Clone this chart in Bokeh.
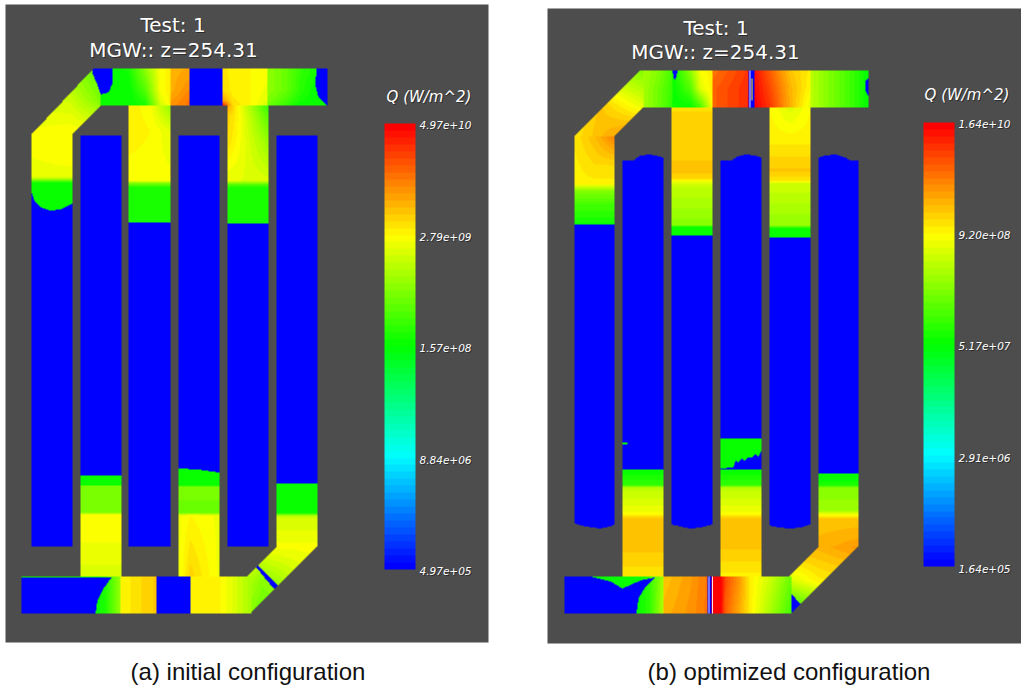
import numpy as np
from bokeh.plotting import figure
from bokeh.models import LinearColorMapper
from bokeh.core.properties import value
from bokeh.embed import file_html
from bokeh.resources import INLINE

W, H = 1021, 692
BG = "#4d4d4d"
E = 0.01

# ---- tick labels / texts
A_TICKS = ["4.97e+10", "2.79e+09", "1.57e+08", "8.84e+06", "4.97e+05"]
B_TICKS = ["1.64e+10", "9.20e+08", "5.17e+07", "2.91e+06", "1.64e+05"]
TITLE_1 = "Test: 1"
TITLE_2 = "MGW:: z=254.31"
CB_TITLE = "Q (W/m^2)"
CAP_A = "(a) initial configuration"
CAP_B = "(b) optimized configuration"

# ---- scalar fields (normalised log Q, 0 blue, .25 cyan, .5 green, .75 yellow, 1 red)
# each block: xs, ys, rows of values, optional outline
A_DIAG = ([31, 70, 100], [68, 100, 134],
          [[.64, .64, .58], [.71, .70, .62], [.74, .75, .75]],
          [(31, 134), (93, 68), (100, 68), (100, 105), (72, 134)])
A_LEFT = ([31, 72], [134, 175, 178, 181, 183, 218, 218 + E, 546],
          [[.74, .75], [.73, .73], [.68, .68], [.56, .56], [.5, .5], [.5, .5], [0, 0], [0, 0]], None)
A_TOP = ([100, 128, 145, 160, 169.9, 170, 189, 189 + E, 222, 222 + E, 232, 250, 267, 267 + E, 285, 300, 316, 327],
         [68, 90, 100, 105],
         [[.5, .52, .64, .74, .76, .82, .83, 0, 0, .77, .76, .75, .74, .64, .60, .55, .52, .5],
          [.5, .5, .58, .74, .76, .82, .86, 0, 0, .78, .76, .75, .73, .64, .60, .54, .5, .5],
          [.5, .5, .54, .72, .76, .84, .88, 0, 0, .84, .77, .75, .72, .62, .57, .52, .5, .5],
          [.5, .5, .52, .70, .75, .85, .88, 0, 0, .97, .78, .75, .70, .60, .55, .5, .5, .5]], None)
A_BAR2 = ([80, 121], [135, 475, 475 + E, 485, 485 + E, 512, 514, 520, 576],
          [[0, 0], [0, 0], [.5, .5], [.5, .5], [.61, .61], [.61, .61], [.74, .74], [.75, .75], [.71, .71]], None)
A_BAR3 = ([128.5, 150, 170], [105, 130, 180, 183, 187, 222, 222 + E, 546],
          [[.76, .74, .64], [.76, .75, .72], [.74, .74, .74], [.62, .62, .62], [.52, .52, .52],
           [.52, .52, .52], [0, 0, 0], [0, 0, 0]], None)
A_BAR4 = ([178, 190, 219], [135, 468, 468 + E, 485, 486, 512, 515, 576],
          [[0, 0, 0], [0, 0, 0], [.5, .5, .5], [.5, .5, .5], [.62, .62, .62], [.6, .6, .6],
           [.73, .75, .73], [.73, .79, .73]],
          [(178, 135), (219, 135), (219, 577), (178, 577)])
A_BAR5 = ([227, 236, 268], [105, 115, 140, 180, 185, 188, 223, 223 + E, 546],
          [[.84, .76, .54], [.79, .76, .58], [.78, .75, .64], [.72, .72, .71], [.56, .56, .56], [.52, .52, .52],
           [.52, .52, .52], [0, 0, 0], [0, 0, 0]], None)
A_BAR6 = ([276, 317], [135, 483, 483 + E, 512, 516, 546],
          [[0, 0], [0, 0], [.5, .5], [.5, .5], [.70, .70], [.74, .74]], None)
A_BOT = ([21, 95, 105, 120, 120 + E, 140, 156, 156 + E, 190, 190 + E, 220, 235, 251],
         [576, 613],
         [[.5, .5, .53, .65, .75, .78, .80, 0, 0, .75, .75, .71, .66],
          [.5, .5, .53, .65, .75, .78, .80, 0, 0, .75, .75, .71, .66]], None)
A_DIAG2 = ([245, 262, 317], [546, 580, 613],
           [[.74, .74, .74], [.68, .63, .73], [.64, .6, .6]],
           [(276, 546), (317, 546), (250, 613), (245, 613), (247, 576)])
# blue overlays
A_BLUE = [[(92, 68), (92, 73), (97, 84), (100, 94), (108, 92), (112, 83), (112, 68)],
          [(316, 68), (315, 85), (318, 97), (327, 105), (327, 68)],
          [(31, 192), (34, 200), (40, 207), (50, 210), (60, 209), (68, 205), (72, 203), (72, 219), (31, 219)],
          [(21, 577), (53, 577), (111, 577), (103, 588), (97, 600), (95, 613), (21, 613)],
          [(255, 566), (258, 565), (278, 585), (274, 589)],
          [(178, 468), (198, 469), (219, 472), (219, 460), (178, 460)]]

B_DIAG = ([574, 600, 643], [70, 105, 136],
          [[.68, .68, .62], [.76, .80, .72], [.77, .81, .87]],
          [(574, 136), (639, 70), (643, 70), (643, 107), (614, 136)])
B_LEFT = ([574, 594, 614], [136, 165, 183, 185, 190, 205, 222, 224, 224 + E, 530],
          [[.77, .81, .87], [.76, .78, .78], [.76, .76, .76], [.72, .72, .72], [.63, .63, .63],
           [.56, .56, .56], [.52, .52, .52], [.5, .5, .5], [0, 0, 0], [0, 0, 0]],
          [(574, 136), (614, 136), (614, 524), (610, 526), (600, 528), (585, 526), (574, 523)])
B_TOP = ([643, 660, 672, 672 + E, 690, 700, 712, 712 + E, 747, 754, 770, 790, 810, 810 + E, 830, 850, 868],
         [70, 88, 107],
         [[.66, .62, .56, .5, .64, .74, .76, .88, .94, .98, .90, .80, .76, .68, .62, .56, .5],
          [.66, .60, .55, .5, .58, .72, .76, .90, .95, .99, .92, .82, .75, .68, .62, .56, .5],
          [.66, .60, .54, .5, .5, .56, .75, .90, .95, 1.0, .94, .82, .72, .68, .62, .56, .5]], None)
B_BAR2 = ([622.5, 663], [150, 469, 469 + E, 485, 487, 510, 514, 518, 540, 576],
          [[0, 0], [0, 0], [.5, .5], [.55, .55], [.68, .68], [.73, .73], [.75, .75], [.80, .80], [.81, .81], [.77, .77]],
          [(622.5, 160), (633, 160), (640, 155), (650, 154), (660, 156), (663, 157), (663, 577), (622.5, 577)])
B_BAR3 = ([671, 712], [107, 170, 178, 180, 185, 225, 226, 235, 235 + E, 530],
          [[.78, .78], [.80, .80], [.79, .79], [.74, .74], [.69, .69], [.63, .63], [.5, .5], [.5, .5], [0, 0], [0, 0]],
          [(671, 107), (712, 107), (712, 524), (700, 527), (690, 528), (680, 526), (671, 524)])
B_BAR4 = ([720, 761], [150, 438, 438 + E, 468, 468 + E, 469, 469 + E, 485, 487, 510, 514, 518, 540, 576],
          [[0, 0], [0, 0], [.5, .5], [.5, .5], [.5, .5], [.5, .5], [.5, .5], [.55, .55], [.68, .68], [.73, .73],
           [.75, .75], [.80, .80], [.81, .81], [.76, .76]],
          [(720, 160), (731, 160), (737, 156), (745, 154), (755, 155), (761, 157), (761, 577), (720, 577)])
B_BAR5 = ([769, 790, 810], [107, 140, 170, 180, 183, 225, 228, 237, 237 + E, 530],
          [[.75, .71, .75], [.76, .76, .76], [.80, .80, .80], [.77, .77, .77], [.70, .70, .70], [.64, .64, .64],
           [.5, .5, .5], [.5, .5, .5], [0, 0, 0], [0, 0, 0]],
          [(769, 107), (810, 107), (810, 524), (800, 527), (790, 528), (778, 527), (769, 525)])
B_BAR6 = ([818, 858], [150, 473, 473 + E, 485, 487, 510, 514, 518, 546],
          [[0, 0], [0, 0], [.5, .5], [.52, .52], [.63, .63], [.65, .65], [.74, .74], [.80, .80], [.82, .84]],
          [(818, 157), (825, 155), (835, 154), (845, 157), (850, 160), (858, 160), (858, 547), (818, 547)])
B_BOT = ([564, 636, 650, 663, 663 + E, 690, 707, 711, 720, 725, 740, 750, 770, 791],
         [576, 613],
         [[.5, .5, .55, .66, .80, .84, .88, 1.0, 1.0, .92, .84, .76, .70, .6],
          [.5, .5, .55, .68, .82, .85, .88, 1.0, 1.0, .90, .82, .76, .66, .56]], None)
B_DIAG2 = ([785, 818, 858], [546, 580, 613],
           [[.82, .82, .85], [.70, .76, .78], [.5, .58, .6]],
           [(818, 546), (858, 546), (791, 613), (785, 613), (789, 576)])
B_BLUE = [[(672, 70), (677, 70), (676, 76), (674, 80), (673, 76)],
          [(748, 70), (754, 70), (754, 107), (748, 107)],
          [(865, 80), (868, 78), (868, 96), (865, 90)],
          [(564, 576), (590, 576), (610, 581), (622, 588), (640, 580), (655, 577), (645, 586), (638, 598), (636, 613), (564, 613)],
          [(707, 576), (711, 576), (711, 613), (707, 613)],
          [(791, 613), (791, 593), (800, 604)],
          [(720, 468), (733, 467), (735, 460), (738, 462), (741, 458), (744, 460), (748, 457), (752, 457), (755, 454),
           (758, 456), (761, 450), (761, 469), (720, 469)]]
B_MARK = [[(751, 78), (752, 78), (752, 100), (751, 100)]]
B_GREEN_SPOT = [[(622.5, 442), (627, 442), (627, 444), (622.5, 444)]]


def inside(px, py, poly):
    poly = np.asarray(poly, float)
    x0, y0 = poly[:, 0], poly[:, 1]
    x1, y1 = np.roll(x0, -1), np.roll(y0, -1)
    res = np.zeros(px.shape, bool)
    for a, b, c, d in zip(x0, y0, x1, y1):
        if b == d:
            continue
        cross = ((b > py) != (d > py)) & (px < (c - a) * (py - b) / (d - b) + a)
        res ^= cross
    return res


field = np.full((H, W), np.nan)
PX, PY = np.meshgrid(np.arange(W) + .5, np.arange(H) + .5)


def shade(block):
    xs, ys, V, poly = block
    V = np.asarray(V, float)
    i0, i1 = int(xs[0]), int(np.ceil(xs[-1]))
    j0, j1 = int(ys[0]), int(np.ceil(ys[-1]))
    new = np.full(field.shape, np.nan)
    for j in range(j0, min(j1, H)):
        row = [np.interp(j + .5, ys, V[:, c]) for c in range(len(xs))]
        new[j, i0:i1] = np.interp(np.arange(i0, i1) + .5, xs, row)
    if poly is not None:
        new[~inside(PX, PY, poly)] = np.nan
    ok = ~np.isnan(new)
    field[ok] = new[ok]


for b in [A_DIAG, A_LEFT, A_TOP, A_BAR2, A_BAR3, A_BAR4, A_BAR5, A_BAR6, A_DIAG2, A_BOT,
          B_DIAG, B_LEFT, B_TOP, B_BAR2, B_BAR3, B_BAR4, B_BAR5, B_BAR6, B_DIAG2, B_BOT]:
    shade(b)
for poly in A_BLUE + B_BLUE:
    m = inside(PX, PY, poly) & ~np.isnan(field)
    field[m] = 0
for poly in B_MARK:
    field[inside(PX, PY, poly)] = .75
for poly in B_GREEN_SPOT:
    field[inside(PX, PY, poly)] = .5


def rainbow(n):
    out = []
    for i in range(n):
        t = i / (n - 1)
        if t < .25:
            c = (0, t / .25, 1)
        elif t < .5:
            c = (0, 1, 1 - (t - .25) / .25)
        elif t < .75:
            c = ((t - .5) / .25, 1, 0)
        else:
            c = (1, 1 - (t - .75) / .25, 0)
        out.append("#%02x%02x%02x" % tuple(int(round(v * 255)) for v in c))
    return out


PAL = rainbow(64)
mapper = LinearColorMapper(palette=PAL, low=0, high=1, nan_color=(0, 0, 0, 0))

p = figure(width=W, height=H, x_range=(0, W), y_range=(H, 0), output_backend="svg",
           toolbar_location=None, min_border=0,
           background_fill_color="white", outline_line_color=None)
p.axis.visible = False
p.grid.visible = False

# panels
p.quad(left=[5, 547], right=[488, 1021], top=[4, 8], bottom=[642, 643], fill_color=BG, line_color=None)

p.image(image=[field], x=0, y=0, dw=W, dh=H, color_mapper=mapper)

# thin white lines of the optimised field
p.segment(x0=[749.5, 708.5, 712], y0=[70, 576, 576], x1=[749.5, 708.5, 712], y1=[107, 613, 613],
          line_color="white", line_width=1, line_alpha=.9)

# colour bars
ramp = np.linspace(1, 0, 64).reshape(-1, 1)
for x0, x1, y0, y1 in [(384, 415, 123, 569), (923, 954, 122, 566)]:
    p.image(image=[ramp], x=x0, y=y0, dw=x1 - x0, dh=y1 - y0, color_mapper=mapper)


def txt(x, y, s, size, color="white", font="DejaVu Sans", style="normal", align="center", shadow=True):
    if shadow:
        p.text(x=[x + 1], y=[y + 1], text=[s], text_color="#222222", text_font=value(font),
               text_font_size=size, text_font_style=style, text_align=align, text_baseline="middle", text_alpha=.75)
    p.text(x=[x], y=[y], text=[s], text_color=color, text_font=value(font),
           text_font_size=size, text_font_style=style, text_align=align, text_baseline="middle")


txt(172.5, 24, TITLE_1, "20px")
txt(173, 49, TITLE_2, "20px")
txt(715.5, 27, TITLE_1, "20px")
txt(715, 51, TITLE_2, "20px")
txt(428.5, 96, CB_TITLE, "15px", style="italic")
txt(966.5, 94, CB_TITLE, "15px", style="italic")
for y, s in zip([124, 236, 347, 459, 570], A_TICKS):
    txt(419, y, s, "10.5px", style="italic", align="left")
for y, s in zip([123, 234, 345, 457, 568], B_TICKS):
    txt(958, y, s, "10.5px", style="italic", align="left")
txt(247.5, 671, CAP_A, "24px", color="#111111", font="Liberation Sans", shadow=False)
txt(788.5, 671, CAP_B, "24px", color="#111111", font="Liberation Sans", shadow=False)

open("out.html", "w").write(file_html(p, INLINE))
